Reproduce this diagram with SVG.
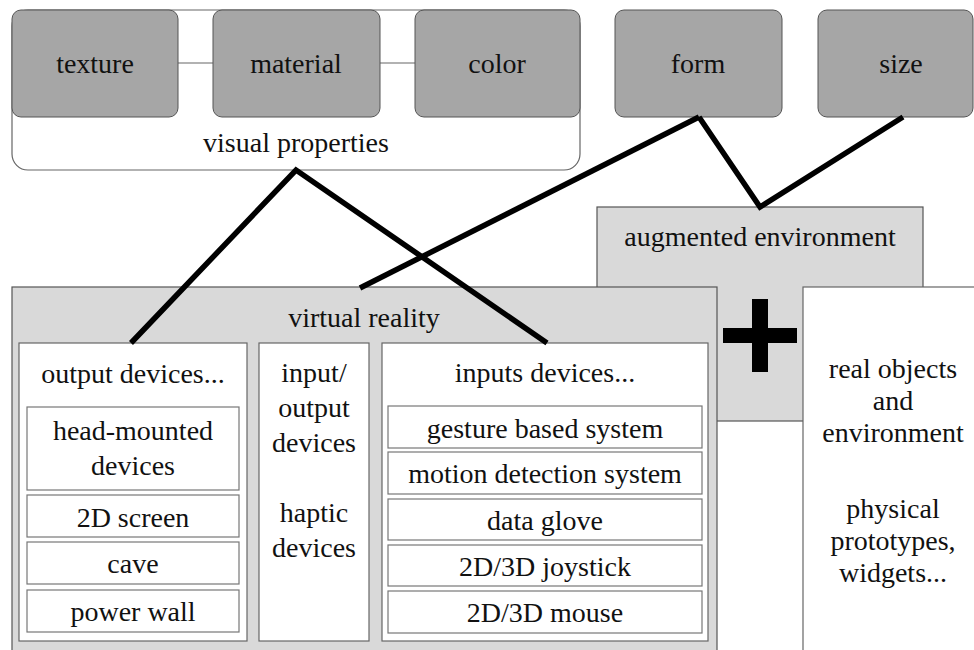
<svg xmlns="http://www.w3.org/2000/svg" width="974" height="650" viewBox="0 0 974 650">
  <style>
    text { font-family: "Liberation Serif", "Times New Roman", Times, "DejaVu Serif", serif; font-size: 28px; fill: #111; text-anchor: middle; }
    .prop { fill: #a6a6a6; stroke: #555; stroke-width: 1; }
    .panel { fill: #d9d9d9; stroke: #555; stroke-width: 1.2; }
    .white { fill: #fff; stroke: #666; stroke-width: 1.2; }
    .item { fill: #fff; stroke: #777; stroke-width: 1.2; }
    .link { stroke: #000; stroke-width: 5.5; fill: none; stroke-linecap: butt; }
    .thin { stroke: #999; stroke-width: 1.5; }
  </style>

  <!-- visual properties group -->
  <g id="visual-properties">
    <rect x="12" y="10" width="568" height="160" rx="16" class="white"/>
    <text x="296" y="152">visual properties</text>
  </g>
  <line class="thin" x1="178" y1="63" x2="213" y2="63"/>
  <line class="thin" x1="380" y1="63" x2="415" y2="63"/>
  <g id="texture">
    <rect x="12" y="10" width="166" height="107" rx="9" class="prop"/>
    <text x="95" y="73">texture</text>
  </g>
  <g id="material">
    <rect x="213" y="10" width="167" height="107" rx="9" class="prop"/>
    <text x="296" y="73">material</text>
  </g>
  <g id="color">
    <rect x="415" y="10" width="165" height="107" rx="9" class="prop"/>
    <text x="497" y="73">color</text>
  </g>
  <g id="form">
    <rect x="615" y="10" width="167" height="107" rx="9" class="prop"/>
    <text x="698" y="73">form</text>
  </g>
  <g id="size">
    <rect x="818" y="10" width="155" height="107" rx="9" class="prop"/>
    <text x="901" y="73">size</text>
  </g>

  <!-- augmented environment -->
  <g id="augmented-environment">
    <rect x="597" y="207" width="326" height="214" class="panel"/>
    <text x="760" y="246">augmented environment</text>
  </g>

  <!-- plus sign -->
  <g id="plus">
    <rect x="752" y="299" width="16" height="73" fill="#000"/>
    <rect x="723" y="328" width="74" height="15" fill="#000"/>
  </g>

  <!-- real objects -->
  <g id="real-objects">
    <rect x="803" y="287" width="180" height="370" class="white"/>
    <text x="893" y="378">real objects</text>
    <text x="893" y="410">and</text>
    <text x="893" y="442">environment</text>
    <text x="893" y="518">physical</text>
    <text x="893" y="550">prototypes,</text>
    <text x="893" y="582">widgets...</text>
  </g>

  <!-- virtual reality -->
  <g id="virtual-reality">
    <rect x="12" y="287" width="705" height="370" class="panel"/>
    <text x="364" y="327">virtual reality</text>
  </g>

  <g id="output-devices">
    <rect x="19" y="343" width="228" height="298" class="white"/>
    <text x="133" y="383">output devices...</text>
    <rect x="27" y="407" width="212" height="83" class="item"/>
    <text x="133" y="440">head-mounted</text>
    <text x="133" y="475">devices</text>
    <rect x="27" y="495" width="212" height="42" class="item"/>
    <text x="133" y="527">2D screen</text>
    <rect x="27" y="542" width="212" height="42" class="item"/>
    <text x="133" y="573">cave</text>
    <rect x="27" y="590" width="212" height="42" class="item"/>
    <text x="133" y="621">power wall</text>
  </g>

  <g id="input-output-devices">
    <rect x="259" y="343" width="110" height="298" class="white"/>
    <text x="314" y="382">input/</text>
    <text x="314" y="417">output</text>
    <text x="314" y="452">devices</text>
    <text x="314" y="522">haptic</text>
    <text x="314" y="557">devices</text>
  </g>

  <g id="input-devices">
    <rect x="382" y="343" width="326" height="298" class="white"/>
    <text x="545" y="382">inputs devices...</text>
    <rect x="388" y="406" width="314" height="42" class="item"/>
    <text x="545" y="438">gesture based system</text>
    <rect x="388" y="452" width="314" height="42" class="item"/>
    <text x="545" y="483">motion detection system</text>
    <rect x="388" y="499" width="314" height="41" class="item"/>
    <text x="545" y="530">data glove</text>
    <rect x="388" y="545" width="314" height="41" class="item"/>
    <text x="545" y="576">2D/3D joystick</text>
    <rect x="388" y="591" width="314" height="42" class="item"/>
    <text x="545" y="622">2D/3D mouse</text>
  </g>

  <!-- connectors -->
  <g id="connectors">
    <polyline class="link" points="131,343 296,170 547,343"/>
    <line class="link" x1="699" y1="117" x2="360" y2="288"/>
    <polyline class="link" points="699,117 760,207 903,117"/>
  </g>
</svg>
